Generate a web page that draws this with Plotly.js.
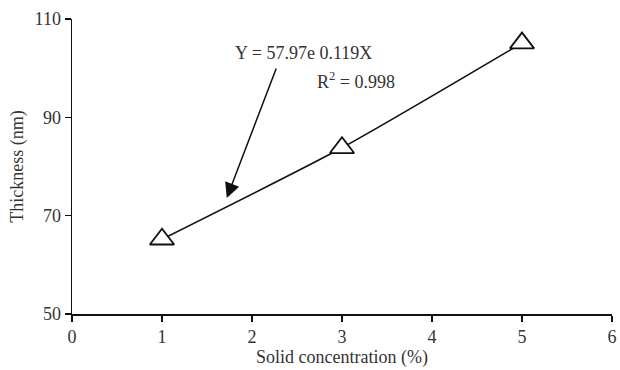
<!DOCTYPE html>
<html>
<head>
<meta charset="utf-8">
<script src="https://cdn.plot.ly/plotly-3.0.1.min.js"></script>
<style>html,body{margin:0;padding:0;background:#fff;}#chart{width:620px;height:370px;}</style>
</head>
<body>
<div id="chart"></div>
<script>
const concentration = [1, 3, 5];
const thickness = [65.2, 83.8, 105.1];
const xTicks = [0, 1, 2, 3, 4, 5, 6];
const yTicks = [50, 70, 90, 110];
const equationText = 'Y = 57.97e 0.119X';
const r2Text = 'R<sup>2</sup> = 0.998';

const font = {family: '"Liberation Serif", "Times New Roman", serif', color: '#333', size: 18};

const lineTrace = {
  x: concentration, y: thickness, mode: 'lines', type: 'scatter',
  line: {color: '#111', width: 1.6, shape: 'spline', smoothing: 0.6},
  hoverinfo: 'skip', showlegend: false
};
const markerTrace = {
  x: concentration, y: thickness, mode: 'markers', type: 'scatter',
  marker: {symbol: 'triangle-up', size: 21, color: '#fff', line: {color: '#111', width: 1.8}},
  showlegend: false
};

const layout = {
  width: 620, height: 370,
  margin: {l: 72, r: 8, t: 19, b: 56},
  paper_bgcolor: '#fff', plot_bgcolor: '#fff',
  font: font,
  showlegend: false,
  xaxis: {
    range: [0, 6], tickvals: xTicks, ticktext: xTicks.map(String),
    showgrid: false, zeroline: false, showline: true, linecolor: '#111', linewidth: 1.5,
    ticks: 'outside', ticklen: 6, tickcolor: '#111', tickwidth: 1.5,
    tickfont: font,
    title: {text: 'Solid concentration (%)', font: font, standoff: 3}
  },
  yaxis: {
    range: [50, 110], tickvals: yTicks, ticktext: yTicks.map(String),
    showgrid: false, zeroline: false, showline: true, linecolor: '#111', linewidth: 1.5,
    ticks: 'outside', ticklen: 6, tickcolor: '#111', tickwidth: 1.5,
    tickfont: font,
    title: {text: 'Thickness (nm)', font: font, standoff: 6}
  },
  annotations: [
    {x: 1.79, y: 103.1, xref: 'x', yref: 'y', text: equationText, showarrow: false,
     xanchor: 'left', yanchor: 'middle', font: font},
    {x: 2.7, y: 97.4, xref: 'x', yref: 'y', text: r2Text, showarrow: false,
     xanchor: 'left', yanchor: 'middle', font: font},
    {x: 1.72, y: 73.6, xref: 'x', yref: 'y', text: '', showarrow: true,
     axref: 'pixel', ayref: 'pixel', ax: 50, ay: -131,
     arrowhead: 2, arrowsize: 2, arrowwidth: 1.5, arrowcolor: '#111', standoff: 0}
  ]
};

Plotly.newPlot('chart', [lineTrace, markerTrace], layout, {displayModeBar: false, staticPlot: true});
</script>
</body>
</html>
